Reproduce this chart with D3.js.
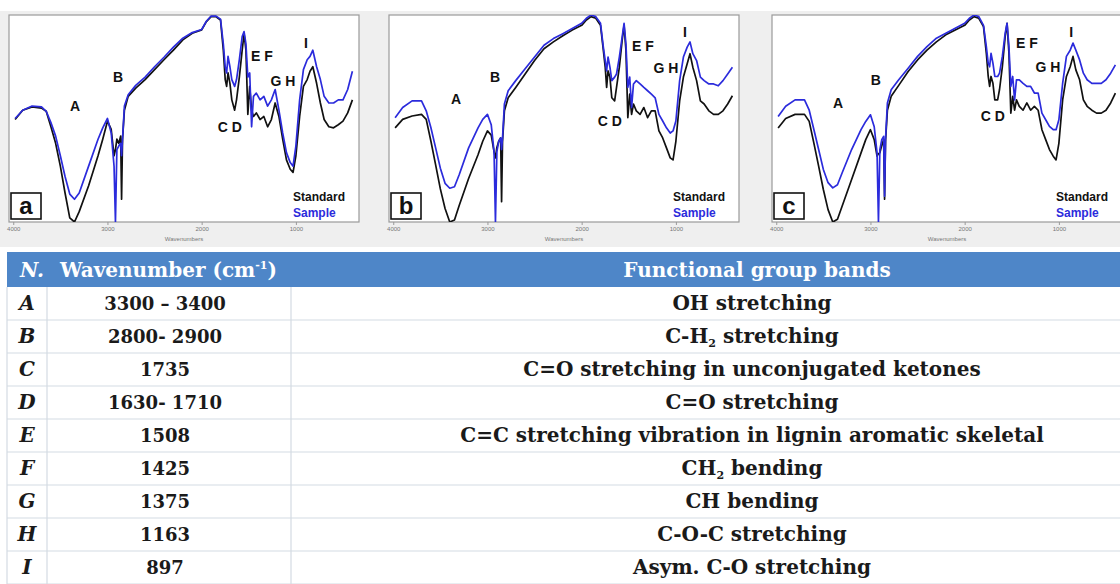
<!DOCTYPE html>
<html>
<head>
<meta charset="utf-8">
<script src="https://cdn.jsdelivr.net/npm/d3@7"></script>
<style>
body { margin: 0; background: #fff; }
</style>
</head>
<body>
<div id="chart"></div>
<script>
// -----------------------------------------
// DATA
// -----------------------------------------
// wavenumber grid (cm-1) shared by every spectrum
var wavenumbers = [3980, 3900, 3800, 3700, 3650, 3600, 3550, 3500, 3450, 3400, 3350, 3300, 3200, 3100, 3050, 3000,
  2960, 2930, 2915, 2900, 2880, 2860, 2850, 2840, 2820, 2780, 2700, 2600, 2500, 2400, 2300, 2200, 2100, 2000,
  1950, 1900, 1850, 1800, 1770, 1750, 1735, 1720, 1700, 1680, 1650, 1630, 1600, 1570, 1550, 1530, 1510, 1490,
  1470, 1450, 1420, 1380, 1340, 1300, 1260, 1220, 1180, 1140, 1100, 1060, 1030, 1000, 960, 920, 880, 850, 820,
  780, 740, 700, 650, 600, 550, 500, 450, 400];

// transmittance (relative %)
var standardA = [49.5, 54, 55.6, 55, 53.5, 46, 38, 27, 14, 2, 0, 5, 17.5, 32, 40, 48.7,
  44.7, 32, 35, 40, 38, 41.5, 11, 40, 54, 60.7, 64.7, 68.8, 73.6, 78.4, 83, 88, 91.2, 92.8,
  96.8, 99.2, 99.2, 97.6, 83, 68.8, 65.5, 72, 67, 59, 54, 59, 70, 83, 91, 83, 52, 65.5,
  54, 51, 52.7, 49.5, 51, 46, 49.5, 57.5, 51, 40, 30, 25.5, 24, 32, 51, 65.5, 68.8, 72.8, 75,
  67, 57.5, 49.5, 46, 45.5, 47, 48.7, 52.7, 59];
var sampleA = [50, 54, 56, 55.6, 53.5, 48, 41.5, 32, 22, 13.5, 11, 14, 27, 40, 45.5, 50,
  43, 27, 0, 35, 36.7, 38, 32, 40, 56, 61.5, 66, 70, 75, 79.6, 84.5, 88.8, 91.5, 93,
  97, 99.5, 99.5, 98, 86, 75, 72, 80, 75, 68.8, 65.5, 68.8, 78.4, 89.6, 92, 86, 70, 72,
  46, 60.7, 62.3, 59, 60.7, 56, 59, 64, 54, 43, 33.5, 28.7, 27, 36.7, 59, 73.6, 78.4, 80, 83,
  75, 68.8, 60.7, 57.5, 57.5, 59, 59, 64, 72.8];
var standardB = [45.5, 49.6, 51.2, 52, 49.6, 39, 27.6, 16, 6.5, 0, 1, 8, 21, 32.5, 39, 44,
  42, 34, 31, 36, 39, 40.6, 9.8, 39, 53.7, 60, 65, 71.5, 78, 83.7, 87, 90, 92.7, 95,
  97.6, 99.2, 98.4, 95, 83, 74.8, 65, 73, 70, 60, 58.5, 65, 74.8, 87.8, 95, 83, 50.4, 61.8,
  52, 57, 53.7, 52, 55.3, 50.4, 53.7, 53.7, 44, 40.6, 35.8, 31, 30, 39, 58.5, 70, 76.4, 81.3, 74.8,
  68.3, 58.5, 57, 53.7, 52, 52, 53.7, 57, 61];
var sampleB = [50.4, 55.3, 58.5, 58.5, 53.7, 45.5, 35.8, 26, 18.7, 16.3, 17, 22.8, 35.8, 45.5, 49.6, 52,
  47, 34, 0, 34, 39, 40.6, 35, 40.6, 57, 63.4, 68.3, 74, 79.7, 85.4, 88.6, 91, 93.5, 96,
  98.4, 100, 99.2, 96, 84.5, 78, 73, 79.7, 74.8, 68.3, 70, 71.5, 79.7, 89.4, 96, 86, 65, 70,
  55.3, 66.7, 68.3, 66.7, 65, 63.4, 61.8, 60, 52, 48.8, 45.5, 43, 44, 48.8, 68.3, 79.7, 84.5, 87, 81.3,
  78, 70, 68.3, 66.7, 66.7, 65.8, 68.3, 71.5, 74.8];
var standardC = [45.4, 50, 52, 52, 48.6, 38, 27, 15.7, 6, 0, 1.3, 7.7, 20.5, 33.4, 39.8, 44.6,
  39.8, 31.8, 33, 33.4, 37, 39.8, 11, 39, 54, 60.7, 66, 72.7, 78.3, 83, 87, 90.4, 92.8, 95,
  97.6, 99.2, 98.4, 94.4, 81.5, 70.3, 65.5, 70.3, 67, 59, 59, 64, 75, 89.6, 96, 81.5, 52.6, 60.7,
  54, 59, 55.9, 54, 57.5, 54, 55.9, 54, 44.6, 39.8, 35, 31.8, 30, 38, 59, 70.3, 75, 80, 73.5,
  68.7, 59, 55.9, 54, 52.6, 52.6, 54, 57.5, 62.3];
var sampleC = [51, 55.9, 59, 59, 54, 44.6, 35, 25.4, 19, 16.5, 18, 23.8, 35, 44.6, 48.6, 51.8,
  46, 33.4, 0, 35, 39.8, 41.4, 12.5, 40, 57.5, 63.9, 68.7, 74.3, 80, 84.7, 88.8, 91.2, 93.6, 96,
  98.4, 100, 99.2, 95, 84.7, 76.7, 75, 81.5, 76.7, 70.3, 70.3, 71.9, 80, 91.2, 96, 84.7, 65.5, 70.3,
  59, 68.7, 68.7, 67, 65.5, 65.5, 62.3, 62.3, 52.6, 49.4, 46.2, 44.6, 44.6, 49.4, 67, 80, 83, 86.4, 83,
  78.3, 71.9, 68.7, 67, 67, 67, 68.7, 71.9, 75.9];

var panelNames = ["a", "b", "c"];
var tickValues = [4000, 3000, 2000, 1000];
var seriesNames = ["Standard", "Sample"];

// band letters and where they sit (wavenumber, transmittance) in each panel
var bandLetters = ["A", "B", "C D", "E F", "G H", "I"];
var bandSpotsA = [[3345, 56], [2888, 70], [1700, 45.7], [1360, 80], [1138, 68], [894, 86.5]];
var bandSpotsB = [[3334, 59.5], [2920, 70], [1700, 49], [1350, 85], [1106, 74.6], [904, 92]];
var bandSpotsC = [[3345, 57.6], [2942, 68.7], [1700, 51], [1340, 86.5], [1115, 75], [870, 92]];

// table
var tableHeader = ["N.", "Wavenumber (cm", "Functional group bands"];
var bandIds = ["A", "B", "C", "D", "E", "F", "G", "H", "I"];
var bandRanges = ["3300 – 3400", "2800- 2900", "1735", "1630- 1710", "1508", "1425", "1375", "1163", "897"];
var bandGroups = [["OH stretching"], ["C-H", "2", " stretching"], ["C=O stretching in unconjugated ketones"],
  ["C=O stretching"], ["C=C stretching vibration in lignin aromatic skeletal"], ["CH", "2", " bending"],
  ["CH bending"], ["C-O-C stretching"], ["Asym. C-O stretching"]];

// -----------------------------------------
// FORMAT VARIABLES
// -----------------------------------------
var W = 1120, H = 584;
var sansF = "'Liberation Sans', Arial, sans-serif";
var serifF = "'DejaVu Serif', serif";
var blue = "#2b2bdc";
var panelLeft = [9, 389, 772];
var panelTop = 15;
var pw = 350, ph = 207;

var svg = d3.select("#chart").append("svg")
  .attr("width", W)
  .attr("height", H);

// gray band behind the spectra
svg.append("rect")
  .attr("x", 0).attr("y", 11)
  .attr("width", W).attr("height", 236)
  .attr("fill", "#efefef");

var x = d3.scaleLinear().domain([4045, 330]).range([0, pw]);
var y = d3.scaleLinear().domain([0, 100]).range([ph, 0]);

var line = d3.line()
  .x(function(d) { return x(d[0]); })
  .y(function(d) { return y(d[1]); });

var panelSeries = [[standardA, sampleA], [standardB, sampleB], [standardC, sampleC]];
var panelSpots = [bandSpotsA, bandSpotsB, bandSpotsC];

svg.append("defs").append("clipPath").attr("id", "plotclip")
  .append("rect").attr("x", 0).attr("y", 0).attr("width", pw).attr("height", ph);

// -----------------------------------------
// WE DRAW THE SPECTRA
// -----------------------------------------
panelNames.forEach(function(name, i) {
  var g = svg.append("g").attr("transform", "translate(" + panelLeft[i] + "," + panelTop + ")");

  g.append("rect")
    .attr("width", pw).attr("height", ph)
    .attr("fill", "#fff")
    .attr("stroke", "#9a9a9a")
    .attr("stroke-width", 1.2);

  var plot = g.append("g").attr("clip-path", "url(#plotclip)");
  panelSeries[i].forEach(function(vals, k) {
    var pts = wavenumbers.map(function(w, j) { return [w, vals[j]]; });
    plot.append("path")
      .datum(pts)
      .attr("d", line)
      .attr("fill", "none")
      .attr("stroke", k == 0 ? "#111" : blue)
      .attr("stroke-width", 1.7)
      .attr("stroke-linejoin", "round");
  });

  // axis
  var axis = d3.axisBottom(x).tickValues(tickValues).tickFormat(d3.format("d")).tickSize(3).tickPadding(2);
  var ax = g.append("g").attr("transform", "translate(0," + ph + ")").call(axis);
  ax.select(".domain").remove();
  ax.selectAll("line").attr("stroke", "#999");
  ax.selectAll("text").style("font-family", sansF).style("font-size", "6px").attr("fill", "#777");
  g.append("text")
    .attr("x", pw / 2).attr("y", ph + 19)
    .attr("text-anchor", "middle")
    .style("font-family", sansF).style("font-size", "6px")
    .attr("fill", "#777")
    .text("Wavenumbers");

  // band letters
  bandLetters.forEach(function(t, j) {
    g.append("text")
      .attr("x", x(panelSpots[i][j][0])).attr("y", y(panelSpots[i][j][1]))
      .attr("text-anchor", "middle")
      .attr("dominant-baseline", "central")
      .style("font-family", sansF).style("font-size", "14px").style("font-weight", "bold")
      .attr("fill", "#111")
      .text(t);
  });

  // legend
  seriesNames.forEach(function(s, k) {
    g.append("text")
      .attr("x", pw - 66).attr("y", 186 + k * 16)
      .style("font-family", sansF).style("font-size", "12px").style("font-weight", "bold")
      .attr("fill", k == 0 ? "#111" : blue)
      .text(s);
  });

  // panel letter box
  g.append("rect")
    .attr("x", 2).attr("y", ph - 29)
    .attr("width", 30).attr("height", 26)
    .attr("fill", "#fff").attr("stroke", "#111").attr("stroke-width", 1.6);
  g.append("text")
    .attr("x", 17).attr("y", ph - 8)
    .attr("text-anchor", "middle")
    .style("font-family", sansF).style("font-size", "24px").style("font-weight", "bold")
    .attr("fill", "#111")
    .text(name);
});

// -----------------------------------------
// WE DRAW THE TABLE
// -----------------------------------------
var tTop = 252, headH = 35, rowH = 33;
var colX = [7, 47, 291, 1223];
var fs = 20;

svg.append("rect")
  .attr("x", colX[0]).attr("y", tTop)
  .attr("width", colX[3] - colX[0]).attr("height", headH)
  .attr("fill", "#4e86c8");

var head = svg.append("g")
  .style("font-family", serifF).style("font-size", fs + "px").style("font-weight", "bold")
  .attr("fill", "#fff");
head.append("text").attr("x", 20).attr("y", tTop + 25).style("font-style", "italic").text(tableHeader[0]);
var wn = head.append("text").attr("x", 60).attr("y", tTop + 25).text(tableHeader[1]);
wn.append("tspan").attr("dy", -8).style("font-size", "11px").text("-1");
wn.append("tspan").attr("dy", 8).text(")");
head.append("text").attr("x", 757).attr("y", tTop + 25)
  .attr("text-anchor", "middle").text(tableHeader[2]);

var rows = svg.append("g")
  .style("font-family", serifF).style("font-size", fs + "px").style("font-weight", "bold")
  .attr("fill", "#1a1a1a");

bandIds.forEach(function(id, i) {
  var ry = tTop + headH + i * rowH;
  var by = ry + 23;
  rows.append("line")
    .attr("x1", colX[0]).attr("x2", colX[3])
    .attr("y1", ry + rowH).attr("y2", ry + rowH)
    .attr("stroke", "#d4dbe3").attr("stroke-width", 1.2);
  rows.append("text")
    .attr("x", (colX[0] + colX[1]) / 2).attr("y", by)
    .attr("text-anchor", "middle").style("font-style", "italic")
    .text(id);
  rows.append("text")
    .attr("x", 165).attr("y", by)
    .attr("text-anchor", "middle")
    .style("font-size", "18px")
    .text(bandRanges[i]);
  var t = rows.append("text")
    .attr("x", 752).attr("y", by)
    .attr("text-anchor", "middle");
  var parts = bandGroups[i];
  t.append("tspan").text(parts[0]);
  if (parts.length > 1) {
    t.append("tspan").attr("dy", 4).style("font-size", "11px").text(parts[1]);
    t.append("tspan").attr("dy", -4).text(parts[2]);
  }
});

// column rules
[colX[0], colX[1], colX[2]].forEach(function(cx) {
  rows.append("line")
    .attr("x1", cx).attr("x2", cx)
    .attr("y1", tTop + headH).attr("y2", H)
    .attr("stroke", "#d4dbe3").attr("stroke-width", 1.2);
});
</script>
</body>
</html>
